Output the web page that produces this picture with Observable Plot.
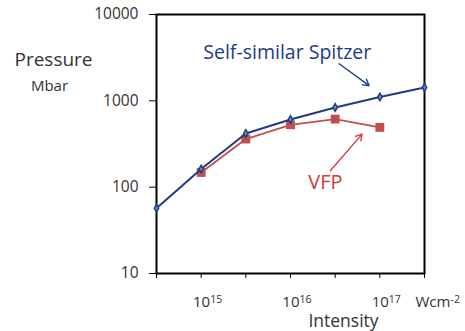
<!DOCTYPE html>
<html>
<head>
<meta charset="utf-8">
<script src="https://cdn.jsdelivr.net/npm/d3@7"></script>
<script src="https://cdn.jsdelivr.net/npm/@observablehq/plot@0.6"></script>
<style>
  html, body { margin: 0; padding: 0; background: #fff; }
</style>
</head>
<body>
<div id="chart"></div>
<script>
// Laser intensity (W cm^-2), half-decade steps
const intensity = [3.162e14, 1e15, 3.162e15, 1e16, 3.162e16, 1e17, 3.162e17];
// Ablation pressure (Mbar) from the self-similar Spitzer model
const spitzer = [57, 162, 419, 608, 839, 1107, 1430];
// Ablation pressure (Mbar) from VFP simulations
const vfpIntensity = [1e15, 3.162e15, 1e16, 3.162e16, 1e17];
const vfp = [148, 361, 528, 615, 492];

// Axis ticks and labels
const xTicks = [3.162e14, 1e15, 3.162e15, 1e16, 3.162e16, 1e17, 3.162e17];
const xDecades = [15, 16, 17];
const yTicks = [10, 100, 1000, 10000];

// Annotation anchors, in data units
const spitzerNote = [{x: 9.2e15, y: 3600, label: "Self-similar Spitzer"}];
const spitzerArrow = [{x1: 3.5e16, y1: 2690, x2: 7.6e16, y2: 1500}];
const vfpNote = [{x: 2.46e16, y: 113, label: "VFP"}];
const vfpArrow = [{x1: 2.79e16, y1: 155, x2: 6.33e16, y2: 412}];

const spitzerData = intensity.map((x, i) => ({x, y: spitzer[i]}));
const vfpData = vfpIntensity.map((x, i) => ({x, y: vfp[i]}));

const blue = "#1f3a86";
const red = "#c0504d";
const ink = "#333";

const chart = Plot.plot({
  width: 465,
  height: 331,
  marginLeft: 156,
  marginRight: 41,
  marginTop: 14,
  marginBottom: 58,
  style: {fontFamily: "'Open Sans', sans-serif", background: "#fff", color: ink, overflow: "visible"},
  x: {type: "log", domain: [3.162e14, 3.162e17]},
  y: {type: "log", domain: [10, 10000]},
  marks: [
    Plot.axisX({ticks: xTicks, tickSize: 5, tickFormat: () => "", label: null, stroke: "#000"}),
    Plot.axisY({ticks: yTicks, tickSize: 7, tickPadding: 11, tickFormat: d => String(d),
                label: null, fontSize: 15.5, stroke: "#000"}),
    Plot.frame({stroke: "#000", strokeWidth: 2}),

    // x tick labels: 10^n
    Plot.text(xDecades, {x: d => 10 ** d, frameAnchor: "bottom", lineAnchor: "middle", text: () => "10",
                         textAnchor: "end", dx: 9, dy: 29, fontSize: 15, fill: ink}),
    Plot.text(xDecades, {x: d => 10 ** d, frameAnchor: "bottom", lineAnchor: "middle", text: d => String(d),
                         textAnchor: "start", dx: 9, dy: 26, fontSize: 10.5, fill: ink}),
    // units
    Plot.text(["Wcm"], {frameAnchor: "bottom-right", lineAnchor: "middle", textAnchor: "start",
                        dx: -9, dy: 29, fontSize: 15, fill: ink}),
    Plot.text(["-2"], {frameAnchor: "bottom-right", lineAnchor: "middle", textAnchor: "start",
                       dx: 26, dy: 26, fontSize: 10.5, fill: ink}),
    // axis titles
    Plot.text(["Intensity"], {frameAnchor: "bottom", lineAnchor: "middle", textAnchor: "middle",
                              dx: 53, dy: 48, fontSize: 17.5, fill: ink}),
    Plot.text(["Pressure"], {frameAnchor: "top-left", lineAnchor: "middle", textAnchor: "middle",
                             dx: -103, dy: 45, fontSize: 19, fill: ink}),
    Plot.text(["Mbar"], {frameAnchor: "top-left", lineAnchor: "middle", textAnchor: "middle",
                         dx: -107, dy: 72, fontSize: 15, fill: ink}),

    // series
    Plot.line(vfpData, {x: "x", y: "y", stroke: red, strokeWidth: 1.8}),
    Plot.dot(vfpData, {x: "x", y: "y", symbol: "square", r: 5, fill: red, stroke: "none"}),
    Plot.line(spitzerData, {x: "x", y: "y", stroke: blue, strokeWidth: 2}),
    Plot.dot(spitzerData, {x: "x", y: "y", symbol: "diamond", r: 2.3, fill: "#6d8bd0", stroke: blue, strokeWidth: 1.5}),

    // annotations
    Plot.text(spitzerNote, {x: "x", y: "y", text: "label", fontSize: 19.5, fill: blue}),
    Plot.arrow(spitzerArrow, {x1: "x1", y1: "y1", x2: "x2", y2: "y2", stroke: blue, strokeWidth: 1.3, headLength: 8}),
    Plot.text(vfpNote, {x: "x", y: "y", text: "label", fontSize: 20, fill: "#d03a3a"}),
    Plot.arrow(vfpArrow, {x1: "x1", y1: "y1", x2: "x2", y2: "y2", stroke: "#d03a3a", strokeWidth: 1.3, headLength: 8})
  ]
});

document.getElementById("chart").appendChild(chart);
</script>
</body>
</html>
